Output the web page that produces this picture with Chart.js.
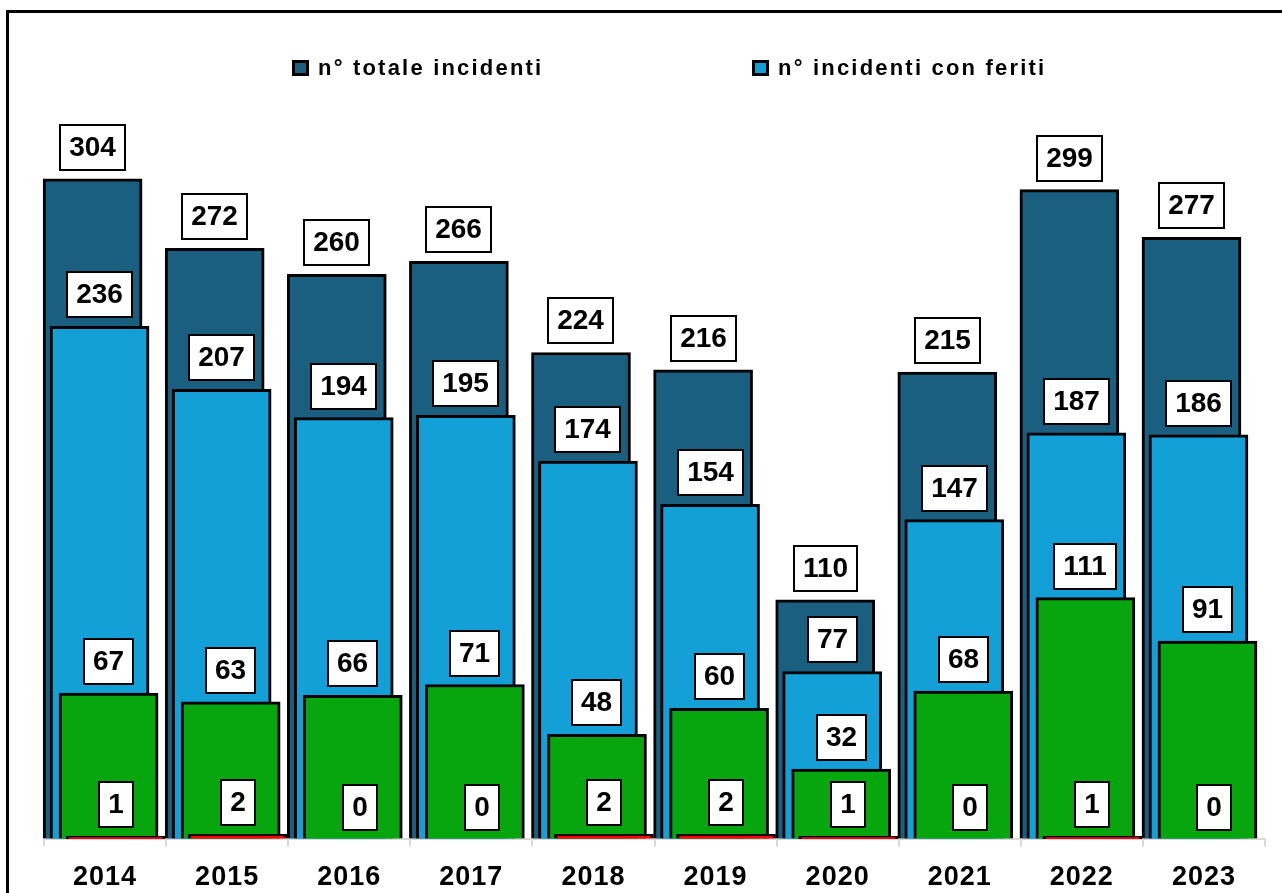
<!DOCTYPE html>
<html lang="it">
<head>
<meta charset="utf-8">
<title>Incidenti 2014-2023</title>
<script src="https://cdn.jsdelivr.net/npm/chart.js@4.4.1/dist/chart.umd.min.js"></script>
<style>
    html, body { margin: 0; padding: 0; background: #fff; overflow: hidden; }
    body { width: 1282px; height: 893px; position: relative; font-family: "Liberation Sans", Arial, sans-serif; }
    #frame { position: absolute; left: 6px; top: 10px; width: 1300px; height: 920px; border: 3px solid #000; box-sizing: border-box; }
    #chart { position: absolute; left: 0; top: 0; }
    #legend { position: absolute; left: 292px; top: 57px; display: flex; }
    .legend-item { display: flex; align-items: center; width: 460px; }
    .legend-box { width: 17px; height: 16px; border: 3px solid #000; box-sizing: border-box; margin-right: 9px; }
    .legend-text { font-weight: bold; font-size: 22px; line-height: 22px; letter-spacing: 2.2px; color: #000; white-space: nowrap; }
</style>
</head>
<body>
<div id="frame"></div>
<canvas id="chart" width="1282" height="909"></canvas>
<div id="legend"></div>

<script>
// ==========================================
// DATA
// ==========================================
const years = ['2014', '2015', '2016', '2017', '2018', '2019', '2020', '2021', '2022', '2023'];

const totalIncidents  = [304, 272, 260, 266, 224, 216, 110, 215, 299, 277];
const injuryIncidents = [236, 207, 194, 195, 174, 154, 77, 147, 187, 186];
const seriousInjuries = [67, 63, 66, 71, 48, 60, 32, 68, 111, 91];
const fatalIncidents  = [1, 2, 0, 0, 2, 2, 1, 0, 1, 0];

const seriesNames = [
    'n° totale incidenti',
    'n° incidenti con feriti',
    'n° incidenti con feriti gravi',
    'n° incidenti mortali'
];

// only the first two series appear in the legend
const legendSeries = [0, 1];

// ==========================================
// STYLE
// ==========================================
const seriesColors = ['#1A5E80', '#12A0D7', '#07A60E', '#FF0000'];
// each series sits a little to the right of the previous one (in category units)
const seriesShift = [-0.102, -0.045, 0.029, 0.086];

const seriesValues = [totalIncidents, injuryIncidents, seriousInjuries, fatalIncidents];

const datasets = seriesValues.map((values, k) => ({
    label: seriesNames[k],
    data: values.map((v, i) => ({ x: i + seriesShift[k], y: v })),
    xAxisID: 'xb',
    backgroundColor: seriesColors[k],
    borderColor: '#000',
    borderWidth: 3,
    borderSkipped: 'bottom',
    barThickness: 99,
    grouped: false,
    order: seriesValues.length - k,
    clip: false
}));

// white boxed value labels above each bar
const valueBoxes = {
    id: 'valueBoxes',
    afterDatasetsDraw(chart) {
        const ctx = chart.ctx;
        ctx.save();
        ctx.letterSpacing = '0px';
        ctx.font = 'bold 28px "Liberation Sans", Arial, sans-serif';
        ctx.textAlign = 'center';
        ctx.textBaseline = 'middle';
        seriesValues.forEach((values, k) => {
            chart.getDatasetMeta(k).data.forEach((bar, i) => {
                const text = String(values[i]);
                const w = Math.round(ctx.measureText(text).width + 20);
                const h = 47;
                const left = Math.round(bar.x - w / 2);
                const top = Math.round(bar.y - 8 - h);
                ctx.fillStyle = '#fff';
                ctx.fillRect(left, top, w, h);
                ctx.lineWidth = 2;
                ctx.strokeStyle = '#000';
                ctx.strokeRect(left + 1, top + 1, w - 2, h - 2);
                ctx.fillStyle = '#000';
                ctx.fillText(text, left + w / 2, top + h / 2 + 1);
            });
        });
        ctx.restore();
    }
};

// year labels are slightly spaced out
const yearSpacing = {
    id: 'yearSpacing',
    beforeDraw(chart) { chart.ctx.letterSpacing = '1px'; },
    beforeDatasetsDraw(chart) { chart.ctx.letterSpacing = '0px'; }
};

function buildLegend() {
    const legendBox = document.getElementById('legend');
    legendBox.innerHTML = '';
    legendSeries.forEach(k => {
        legendBox.innerHTML += `
            <div class="legend-item">
                <div class="legend-box" style="background:${seriesColors[k]}"></div>
                <span class="legend-text">${seriesNames[k]}</span>
            </div>`;
    });
}

new Chart(document.getElementById('chart'), {
    type: 'bar',
    data: { labels: years, datasets: datasets },
    options: {
        responsive: false,
        animation: false,
        events: [],
        layout: { padding: { left: 44, right: 17, top: 79, bottom: 0 } },
        plugins: {
            legend: { display: false },
            tooltip: { enabled: false }
        },
        scales: {
            x: {
                type: 'category',
                labels: years,
                position: 'bottom',
                offset: true,
                grid: { offset: true, drawOnChartArea: false, tickLength: 8, color: '#d9d9d9', lineWidth: 2 },
                border: { color: '#d9d9d9', width: 2 },
                ticks: {
                    color: '#000',
                    font: { family: '"Liberation Sans", Arial, sans-serif', size: 27, weight: 'bold' },
                    padding: 15,
                    maxRotation: 0,
                    autoSkip: false
                }
            },
            xb: { type: 'linear', display: false, min: -0.5, max: 9.5, offset: false },
            y: { display: false, min: 0, max: 350 }
        }
    },
    plugins: [yearSpacing, valueBoxes]
});

buildLegend();
</script>
</body>
</html>
